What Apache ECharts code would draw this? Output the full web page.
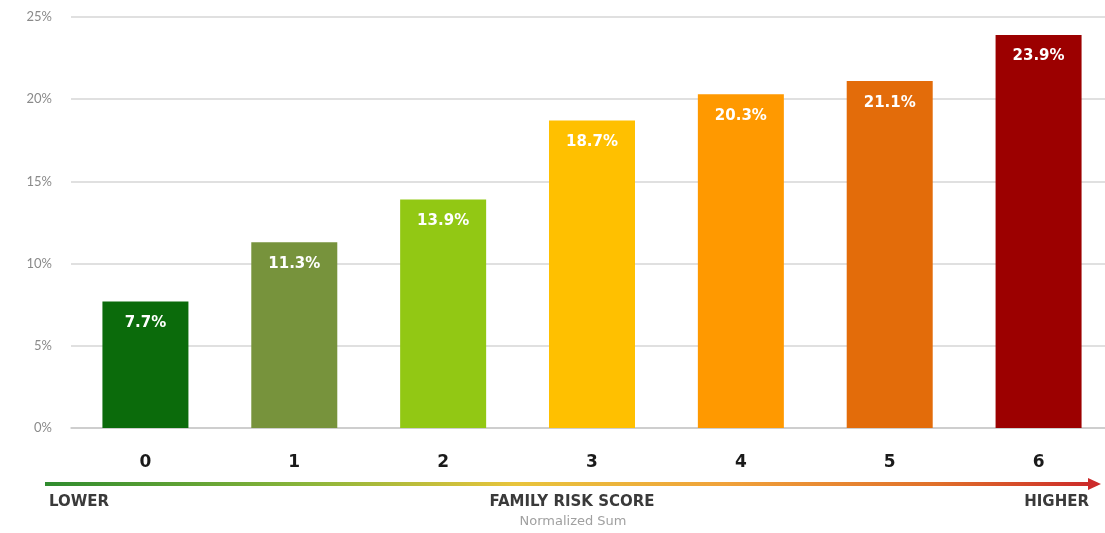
<!DOCTYPE html>
<html>
<head>
<meta charset="utf-8">
<script src="https://cdn.jsdelivr.net/npm/echarts@6/dist/echarts.min.js"></script>
<style>
  html, body { margin: 0; padding: 0; background: #ffffff; }
  #chart { width: 1105px; height: 533px; }
</style>
</head>
<body>
<div id="chart"></div>
<script>
// Family risk score buckets and the share (%) falling in each
const scores = ['0', '1', '2', '3', '4', '5', '6'];
const shares = [7.7, 11.3, 13.9, 18.7, 20.3, 21.1, 23.9];
const barColors = ['#0b6b0b', '#77933c', '#92c814', '#ffc000', '#ff9900', '#e36c0a', '#9c0000'];
const yTicks = [0, 5, 10, 15, 20, 25];

const chart = echarts.init(document.getElementById('chart'));

const captionFont = 'bold 15px "DejaVu Sans"';

chart.setOption({
  animation: false,
  grid: { left: 71, width: 1042, top: 17, height: 411, outerBoundsMode: 'none', containLabel: false },
  xAxis: {
    type: 'category',
    data: scores,
    axisTick: { show: false },
    axisLine: { show: true, lineStyle: { color: '#c8c8c8', width: 1.5 } },
    axisLabel: {
      color: '#1a1a1a',
      fontFamily: 'DejaVu Sans',
      fontWeight: 'bold',
      fontSize: 17,
      margin: 26
    }
  },
  yAxis: {
    type: 'value',
    min: yTicks[0],
    max: yTicks[yTicks.length - 1],
    interval: 5,
    axisLine: { show: false },
    axisTick: { show: false },
    splitLine: { lineStyle: { color: '#e0e0e0', width: 2 } },
    axisLabel: {
      color: '#8a8a8a',
      fontFamily: 'Lato',
      fontSize: 13,
      margin: 19,
      formatter: '{value}%'
    }
  },
  series: [{
    type: 'bar',
    barWidth: 86,
    data: shares.map((v, i) => ({ value: v, itemStyle: { color: barColors[i] } })),
    label: {
      show: true,
      position: 'insideTop',
      distance: 14,
      color: '#ffffff',
      fontFamily: 'DejaVu Sans',
      fontWeight: 'bold',
      fontSize: 15,
      formatter: p => p.value.toFixed(1) + '%'
    }
  }],
  graphic: [
    {
      type: 'line',
      shape: { x1: 45, y1: 484, x2: 1090, y2: 484 },
      style: {
        lineWidth: 4,
        stroke: new echarts.graphic.LinearGradient(0, 0, 1, 0, [
          { offset: 0, color: '#2e8b2e' },
          { offset: 0.25, color: '#8ab53a' },
          { offset: 0.45, color: '#e8c43c' },
          { offset: 0.65, color: '#f0a23a' },
          { offset: 0.85, color: '#e0702a' },
          { offset: 1, color: '#cc2a2a' }
        ])
      }
    },
    {
      type: 'polygon',
      shape: { points: [[1088, 478], [1101, 484], [1088, 490]] },
      style: { fill: '#cc2a2a' }
    },
    {
      type: 'text',
      x: 49, y: 502,
      style: { text: 'LOWER', fill: '#3a3a3a', font: captionFont, align: 'left', verticalAlign: 'middle' }
    },
    {
      type: 'text',
      x: 572, y: 502,
      style: { text: 'FAMILY RISK SCORE', fill: '#3a3a3a', font: captionFont, align: 'center', verticalAlign: 'middle' }
    },
    {
      type: 'text',
      x: 1089, y: 502,
      style: { text: 'HIGHER', fill: '#3a3a3a', font: captionFont, align: 'right', verticalAlign: 'middle' }
    },
    {
      type: 'text',
      x: 573, y: 522,
      style: { text: 'Normalized Sum', fill: '#a0a0a0', font: '13px "DejaVu Sans"', align: 'center', verticalAlign: 'middle' }
    }
  ]
});
</script>
</body>
</html>
